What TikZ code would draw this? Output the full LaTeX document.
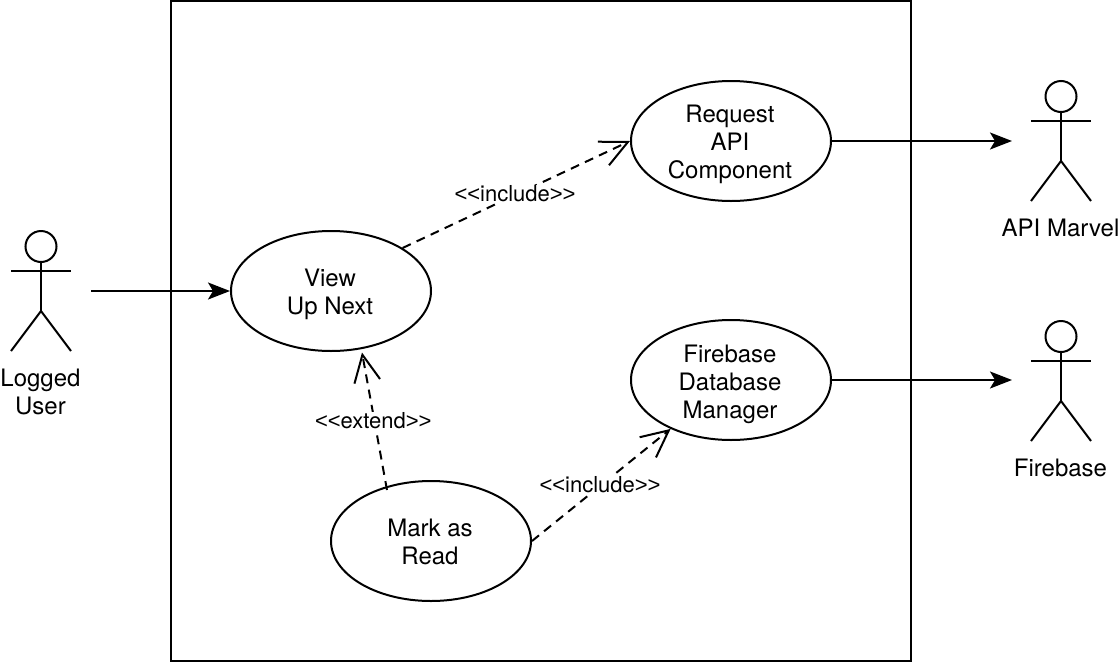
\documentclass[tikz,border=0pt]{standalone}
\usepackage{fontspec}
\setmainfont{TeX Gyre Heros}
\newfontfamily\bracketfont{Liberation Sans}
\usetikzlibrary{arrows.meta,shapes.geometric}
\newcommand{\lguil}{{\bracketfont\hspace{-1pt}<\hspace{-0.1pt}<}}
\newcommand{\rguil}{{\bracketfont>\hspace{-0.1pt}>\hspace{-1pt}}}
\tikzset{
  x=1pt,y=-1pt,
  every path/.style={line width=2pt},
  usecase/.style={draw,ellipse,minimum width=200pt,minimum height=120pt,inner sep=0pt},
  casetext/.style={align=center,yshift=-3pt,xshift=-1pt,inner sep=0pt,font=\fontsize{24}{28}\selectfont},
  actorname/.style={align=center,font=\fontsize{24}{28}\selectfont,inner sep=0pt},
  head/.style={draw,circle,minimum size=31pt,inner sep=0pt},
  flow/.style={-{Stealth[length=22pt,width=17pt,inset=5pt]}},
  dep/.style={dashed,dash pattern=on 9pt off 6.5pt,-{Straight Barb[length=27pt,width=26pt,line width=2pt]}},
  deplabel/.style={fill=white,inner sep=1pt,yshift=0.4pt,xshift=-0.8pt,font=\fontsize{22}{26}\selectfont},
}
\newcommand{\actorfig}[3]{% name, cx, top y of head
  \node[head] (#1head) at (#2,#3+15.5) {};
  \coordinate (#1hip) at (#2,#3+80);
  \draw (#1head.south) -- (#1hip);
  \draw (#2-30,#3+40) -- (#2+30,#3+40);
  \draw (#2-30,#3+120) -- (#1hip) -- (#2+30,#3+120);
}
\begin{document}
\begin{tikzpicture}
\useasboundingbox (0,0) rectangle (1120,662);
\node[draw,rectangle,minimum width=740pt,minimum height=660pt,inner sep=0pt,anchor=north west] (system) at (170.4,-0.2) {};
\node[usecase,label={[casetext]center:View\\Up Next}] (view) at (331,291) {};
\node[usecase,label={[casetext]center:Request\\API\\Component}] (req) at (731,141) {};
\node[usecase,label={[casetext,yshift=-1pt]center:Firebase\\Database\\Manager}] (fire) at (731,380) {};
\node[usecase,label={[casetext,yshift=2pt]center:Mark as\\Read}] (mark) at (431,541) {};

\actorfig{logged}{41}{231}
\actorfig{marvel}{1061}{81}
\actorfig{fb}{1061}{321}
\node[actorname] (loggedname) at (40.5,392) {Logged\\User};
\node[actorname] (marvelname) at (1060.5,228) {API Marvel};
\node[actorname] (fbname) at (1060.5,468) {Firebase};

\coordinate (loggedout) at (91,291);
\coordinate (marvelin) at (1012,141);
\coordinate (fbin) at (1012,380);
\coordinate (viewtip) at (362,352.5);
\coordinate (markstart) at (387,490);
\draw[flow] (loggedout) -- (view.west);
\draw[flow] (req.east) -- (marvelin);
\draw[flow] (fire.east) -- (fbin);
\draw[dep] (view.31) -- node[deplabel] (l1) {\lguil include\rguil} (req.west);
\draw[dep] (mark.east) -- node[deplabel] (l2) {\lguil include\rguil} (fire.219);
\draw[dep] (markstart) -- node[deplabel] (l3) {\lguil extend\rguil} (viewtip);
\end{tikzpicture}
\end{document}
